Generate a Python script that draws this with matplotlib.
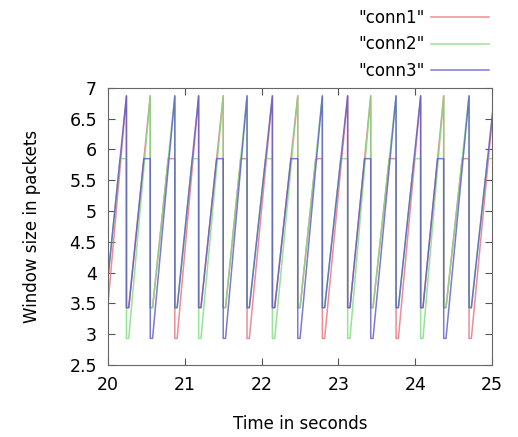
import matplotlib
matplotlib.use('Agg')

import numpy as np
import matplotlib.pyplot as plt

######################################################################
## DATA

# loss events (s), and which connection sits on the 5.85 plateau at each one
events = [19.93, 20.24, 20.55, 20.87, 21.18, 21.50, 21.81, 22.14, 22.47,
          22.79, 23.12, 23.42, 23.75, 24.07, 24.37, 24.70, 25.03]
low_conn = [0, 1, 2, 0, 1, 2, 0, 1, 2, 0, 1, 2, 0, 1, 2, 0, 1]

names = ['"conn1"', '"conn2"', '"conn3"']
colors = ['#e8707c', '#7ddc7d', '#5a5ac8']

peak = 6.87      # top of the sawtooth
plateau = 5.85   # level held by the next connection to lose
half_peak = 3.43
half_plateau = 2.93
hold = 0.03      # short flat bit after each drop

yticks = [2.5, 3, 3.5, 4, 4.5, 5, 5.5, 6, 6.5, 7]
yticklabels = ['2.5', '3', '3.5', '4', '4.5', '5', '5.5', '6', '6.5', '7']
xticks = [20, 21, 22, 23, 24, 25]


def trace(c):
    t = [events[0]]
    w = [plateau if low_conn[0] == c else peak]
    for k in range(len(events) - 1):
        e0, e1 = events[k], events[k + 1]
        if low_conn[k] == c:
            bottom, top = half_plateau, peak
        elif low_conn[k + 1] == c:
            bottom, top = half_peak, plateau
        else:
            bottom, top = half_peak, peak
        t += [e0, e0 + hold]
        w += [bottom, bottom]
        if top == plateau:
            # climbs along with the other one, then waits on the plateau
            rate = (peak - half_peak) / (e1 - e0 - hold)
            t.append(e0 + hold + (plateau - half_peak) / rate)
            w.append(plateau)
        t.append(e1)
        w.append(top)
    return np.array(t), np.array(w)


######################################################################

fig = plt.figure(figsize=(5.18, 4.37), dpi=100)
ax = fig.add_axes([0.2085, 0.165, 0.7415, 0.634])

for c in range(3):
    t, w = trace(c)
    ax.plot(t, w, color=colors[c], lw=1.1, alpha=0.8, label=names[c])

ax.set_xlim(20, 25)
ax.set_ylim(2.5, 7)
ax.set_xticks(xticks)
ax.set_yticks(yticks)
ax.set_yticklabels(yticklabels)
ax.tick_params(direction='in', top=True, right=True, labelsize=12.5,
               length=5, color='#555555', pad=8)
for s in ax.spines.values():
    s.set_color('#666666')

ax.set_xlabel('Time in seconds', fontsize=12, labelpad=15)
ax.set_ylabel('Window size in packets', fontsize=12, labelpad=20)

ax.legend(loc='lower right', bbox_to_anchor=(1.01, 1.005), frameon=False,
          markerfirst=False, fontsize=12, handlelength=3.5,
          handletextpad=0.4, labelspacing=0.5, borderaxespad=0.0)

plt.savefig('out.png', dpi=100)
